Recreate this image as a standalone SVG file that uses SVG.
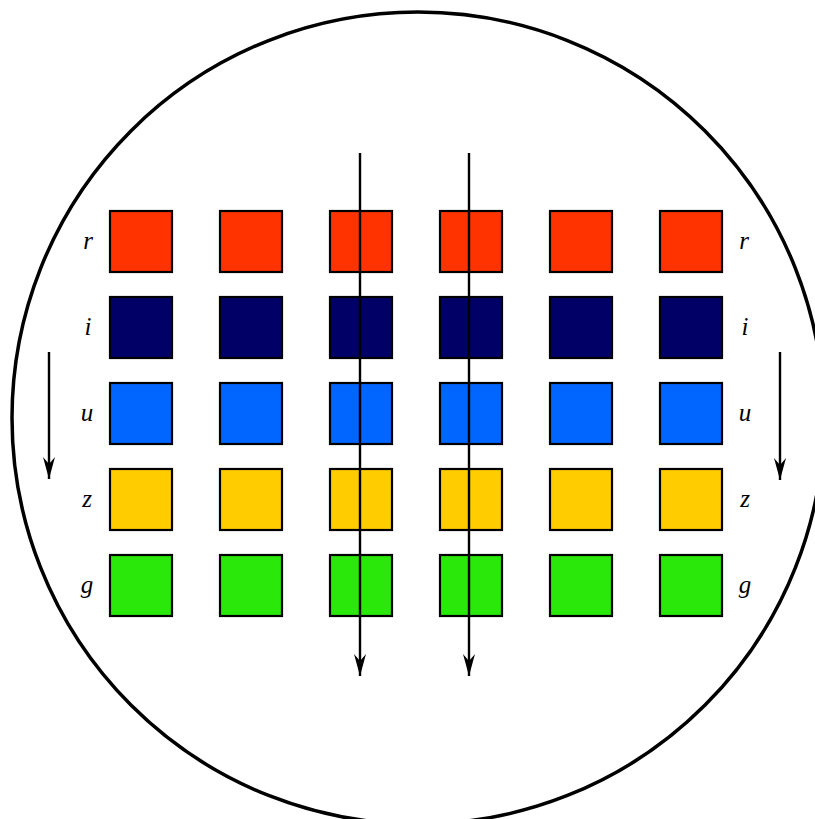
<svg xmlns="http://www.w3.org/2000/svg" width="815" height="819" viewBox="0 0 815 819">
<style>
.sq{stroke:#000;stroke-width:2.2}
.r{fill:#FF3300}.i{fill:#000066}.u{fill:#0066FF}.z{fill:#FFCC00}.g{fill:#2AE80A}
.lbl{font-family:"Liberation Serif",serif;font-style:italic;font-size:25px;fill:#000;text-anchor:middle;dominant-baseline:central}
.ar{stroke:#000;stroke-width:2.4;fill:none;marker-end:url(#ah)}
</style>
<defs>
<marker id="ah" markerUnits="userSpaceOnUse" markerWidth="24" markerHeight="14" viewBox="-23 -7 24 14" refX="0" refY="0" orient="auto">
<path d="M0,0 L-22,-6 L-15,0 L-22,6 Z" fill="#000"/>
</marker>
</defs>
<rect width="815" height="819" fill="#fff"/>
<circle id="wafer" cx="418" cy="418" r="406" fill="none" stroke="#000" stroke-width="3.5"/>
<g id="row-r">
<rect class="sq r" x="110" y="211" width="62" height="61"/>
<rect class="sq r" x="220" y="211" width="62" height="61"/>
<rect class="sq r" x="330" y="211" width="62" height="61"/>
<rect class="sq r" x="440" y="211" width="62" height="61"/>
<rect class="sq r" x="550" y="211" width="62" height="61"/>
<rect class="sq r" x="660" y="211" width="62" height="61"/>
</g>
<g id="row-i">
<rect class="sq i" x="110" y="297" width="62" height="61"/>
<rect class="sq i" x="220" y="297" width="62" height="61"/>
<rect class="sq i" x="330" y="297" width="62" height="61"/>
<rect class="sq i" x="440" y="297" width="62" height="61"/>
<rect class="sq i" x="550" y="297" width="62" height="61"/>
<rect class="sq i" x="660" y="297" width="62" height="61"/>
</g>
<g id="row-u">
<rect class="sq u" x="110" y="383" width="62" height="61"/>
<rect class="sq u" x="220" y="383" width="62" height="61"/>
<rect class="sq u" x="330" y="383" width="62" height="61"/>
<rect class="sq u" x="440" y="383" width="62" height="61"/>
<rect class="sq u" x="550" y="383" width="62" height="61"/>
<rect class="sq u" x="660" y="383" width="62" height="61"/>
</g>
<g id="row-z">
<rect class="sq z" x="110" y="469" width="62" height="61"/>
<rect class="sq z" x="220" y="469" width="62" height="61"/>
<rect class="sq z" x="330" y="469" width="62" height="61"/>
<rect class="sq z" x="440" y="469" width="62" height="61"/>
<rect class="sq z" x="550" y="469" width="62" height="61"/>
<rect class="sq z" x="660" y="469" width="62" height="61"/>
</g>
<g id="row-g">
<rect class="sq g" x="110" y="555" width="62" height="61"/>
<rect class="sq g" x="220" y="555" width="62" height="61"/>
<rect class="sq g" x="330" y="555" width="62" height="61"/>
<rect class="sq g" x="440" y="555" width="62" height="61"/>
<rect class="sq g" x="550" y="555" width="62" height="61"/>
<rect class="sq g" x="660" y="555" width="62" height="61"/>
</g>
<g id="labels">
<text class="lbl" x="88" y="240">r</text>
<text class="lbl" x="88" y="326">i</text>
<text class="lbl" x="87" y="412">u</text>
<text class="lbl" x="87" y="498">z</text>
<text class="lbl" x="87" y="584">g</text>
<text class="lbl" x="744" y="240">r</text>
<text class="lbl" x="745" y="326">i</text>
<text class="lbl" x="745" y="412">u</text>
<text class="lbl" x="745" y="498">z</text>
<text class="lbl" x="745" y="584">g</text>
</g>
<g id="connectors">
<line class="ar" x1="360" y1="153" x2="360" y2="676"/>
<line class="ar" x1="469" y1="153" x2="469" y2="676"/>
<line class="ar" x1="49" y1="352" x2="49" y2="479"/>
<line class="ar" x1="780" y1="352" x2="780" y2="480"/>
</g>
</svg>
